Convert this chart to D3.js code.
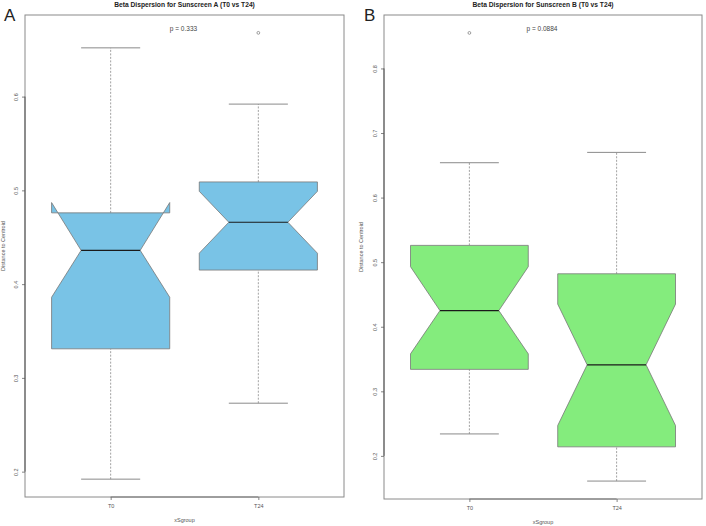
<!DOCTYPE html>
<html>
<head>
<meta charset="utf-8">
<script src="https://cdn.jsdelivr.net/npm/d3@7"></script>
<style>
  body { margin: 0; background: #fff; }
  svg { display: block; font-family: "Liberation Sans", Arial, Helvetica, sans-serif; }
</style>
</head>
<body>
<svg id="chart" width="706" height="526"></svg>
<script>
// ---------- data ----------
const groups = ["T0", "T24"];

// Panel A: Sunscreen A
const aWhiskerLow  = [0.192, 0.273];
const aQ1          = [0.331, 0.415];
const aMedian      = [0.436, 0.466];
const aQ3          = [0.476, 0.509];
const aWhiskerHigh = [0.652, 0.592];
const aNotchLow    = [0.386, 0.433];
const aNotchHigh   = [0.487, 0.499];
const aOutliers    = [[], [0.668]];
const aTicks       = [0.2, 0.3, 0.4, 0.5, 0.6];
const aTitle       = "Beta Dispersion for Sunscreen A (T0 vs T24)";
const aP           = "p = 0.333";

// Panel B: Sunscreen B
const bWhiskerLow  = [0.234, 0.161];
const bQ1          = [0.334, 0.214];
const bMedian      = [0.425, 0.341];
const bQ3          = [0.526, 0.482];
const bWhiskerHigh = [0.654, 0.670];
const bNotchLow    = [0.358, 0.247];
const bNotchHigh   = [0.493, 0.435];
const bOutliers    = [[0.855], []];
const bTicks       = [0.2, 0.3, 0.4, 0.5, 0.6, 0.7, 0.8];
const bTitle       = "Beta Dispersion for Sunscreen B (T0 vs T24)";
const bP           = "p = 0.0884";

const yLabel = "Distance to Centroid";
const xLabel = "xSgroup";

// ---------- drawing ----------
const svg = d3.select("#chart");

function drawPanel(cfg) {
  const { left, right, top, bottom, fill, letter, letterX } = cfg;
  const g = svg.append("g");

  const allVals = cfg.wl.concat(cfg.wh, cfg.out.flat());
  const lo = d3.min(allVals), hi = d3.max(allVals), r = hi - lo;
  const y = d3.scaleLinear().domain([lo - 0.04 * r, hi + 0.04 * r]).range([bottom, top]);
  const x = d3.scaleLinear().domain([0.42, 2.58]).range([left, right]);
  const boxW = 0.8;

  // frame
  g.append("rect").attr("x", left).attr("y", top)
    .attr("width", right - left).attr("height", bottom - top)
    .attr("fill", "none").attr("stroke", "#8a8a8a").attr("stroke-width", 1);

  groups.forEach((grp, i) => {
    const cx = x(i + 1);
    const hw = x(i + 1 + boxW / 2) - cx;
    const nw = hw / 2;
    const capW = hw / 2;
    // whiskers (dashed)
    [[cfg.wl[i], cfg.q1[i]], [cfg.q3[i], cfg.wh[i]]].forEach(([a, b]) => {
      g.append("line").attr("x1", cx).attr("x2", cx)
        .attr("y1", y(a)).attr("y2", y(b))
        .attr("stroke", "#8a8a8a").attr("stroke-width", 0.8)
        .attr("stroke-dasharray", "2,1.5");
    });
    // caps
    [cfg.wl[i], cfg.wh[i]].forEach(v => {
      g.append("line").attr("x1", cx - capW).attr("x2", cx + capW)
        .attr("y1", y(v)).attr("y2", y(v))
        .attr("stroke", "#8a8a8a").attr("stroke-width", 1);
    });
    // notched box (R style polygon)
    const pts = [
      [cx - hw, y(cfg.q1[i])], [cx + hw, y(cfg.q1[i])],
      [cx + hw, y(cfg.nl[i])], [cx + nw, y(cfg.med[i])],
      [cx + hw, y(cfg.nh[i])], [cx + hw, y(cfg.q3[i])],
      [cx - hw, y(cfg.q3[i])], [cx - hw, y(cfg.nh[i])],
      [cx - nw, y(cfg.med[i])], [cx - hw, y(cfg.nl[i])]
    ];
    g.append("path").attr("d", d3.line()(pts) + "Z")
      .attr("fill", fill).attr("stroke", "#777").attr("stroke-width", 0.8)
      .attr("stroke-linejoin", "miter");
    // median
    g.append("line").attr("x1", cx - nw).attr("x2", cx + nw)
      .attr("y1", y(cfg.med[i])).attr("y2", y(cfg.med[i]))
      .attr("stroke", "#1a1a1a").attr("stroke-width", 1.2);
    // outliers
    cfg.out[i].forEach(v => {
      g.append("circle").attr("cx", cx).attr("cy", y(v)).attr("r", 1.4)
        .attr("fill", "none").attr("stroke", "#777").attr("stroke-width", 0.7);
    });
  });

  // y axis
  const ya = g.append("g").attr("transform", `translate(${left},0)`)
    .call(d3.axisLeft(y).tickValues(cfg.ticks).tickSize(3).tickFormat(d3.format(".1f")));
  ya.select(".domain").remove();
  ya.selectAll(".tick line").attr("stroke", "#666").attr("stroke-width", 0.8);
  ya.selectAll(".tick text")
    .attr("transform", "rotate(-90)").attr("x", 0).attr("y", -7.5).attr("dy", 0)
    .attr("text-anchor", "middle").attr("fill", "#555")
    .style("font-size", "5.5px").style("font-family", "'Liberation Sans', Arial, sans-serif");
  g.append("line").attr("x1", left).attr("x2", left)
    .attr("y1", y(d3.min(cfg.ticks))).attr("y2", y(d3.max(cfg.ticks)))
    .attr("stroke", "#555").attr("stroke-width", 1);

  // x axis
  const xa = g.append("g").attr("transform", `translate(0,${bottom})`)
    .call(d3.axisBottom(x).tickValues([1, 2]).tickSize(3).tickFormat((d, i) => groups[i]));
  xa.select(".domain").remove();
  xa.selectAll(".tick line").attr("stroke", "#666").attr("stroke-width", 0.8);
  xa.selectAll(".tick text").attr("y", 11).attr("dy", 0).attr("fill", "#555")
    .style("font-size", "5.5px").style("font-family", "'Liberation Sans', Arial, sans-serif");
  g.append("line").attr("x1", x(1)).attr("x2", x(2))
    .attr("y1", bottom).attr("y2", bottom)
    .attr("stroke", "#777").attr("stroke-width", 1);

  // titles
  const mid = (left + right) / 2;
  g.append("text").attr("x", mid).attr("y", 7).attr("text-anchor", "middle")
    .style("font-size", "6.7px").style("font-weight", "bold").attr("fill", "#222")
    .text(cfg.title);
  g.append("text").attr("x", mid - 1).attr("y", 31).attr("text-anchor", "middle")
    .style("font-size", "6.5px").attr("fill", "#444").text(cfg.p);
  g.append("text").attr("x", mid).attr("y", bottom + 25).attr("text-anchor", "middle")
    .style("font-size", "5.5px").attr("fill", "#555").text(xLabel);
  g.append("text").attr("transform", `translate(${cfg.yLabX},${(top + bottom) / 2 - 10}) rotate(-90)`)
    .attr("text-anchor", "middle")
    .style("font-size", "5.5px").attr("fill", "#555").text(yLabel);
  g.append("text").attr("x", letterX).attr("y", 21)
    .style("font-size", "17px").attr("fill", "#222").text(letter);
}

drawPanel({
  left: 25, right: 344, top: 15, bottom: 497, fill: "#79c3e6",
  wl: aWhiskerLow, q1: aQ1, med: aMedian, q3: aQ3, wh: aWhiskerHigh,
  nl: aNotchLow, nh: aNotchHigh, out: aOutliers, ticks: aTicks,
  title: aTitle, p: aP, letter: "A", letterX: 4, yLabX: 5
});
drawPanel({
  left: 384, right: 702, top: 15, bottom: 499, fill: "#84ec7d",
  wl: bWhiskerLow, q1: bQ1, med: bMedian, q3: bQ3, wh: bWhiskerHigh,
  nl: bNotchLow, nh: bNotchHigh, out: bOutliers, ticks: bTicks,
  title: bTitle, p: bP, letter: "B", letterX: 364, yLabX: 363
});
</script>
</body>
</html>
